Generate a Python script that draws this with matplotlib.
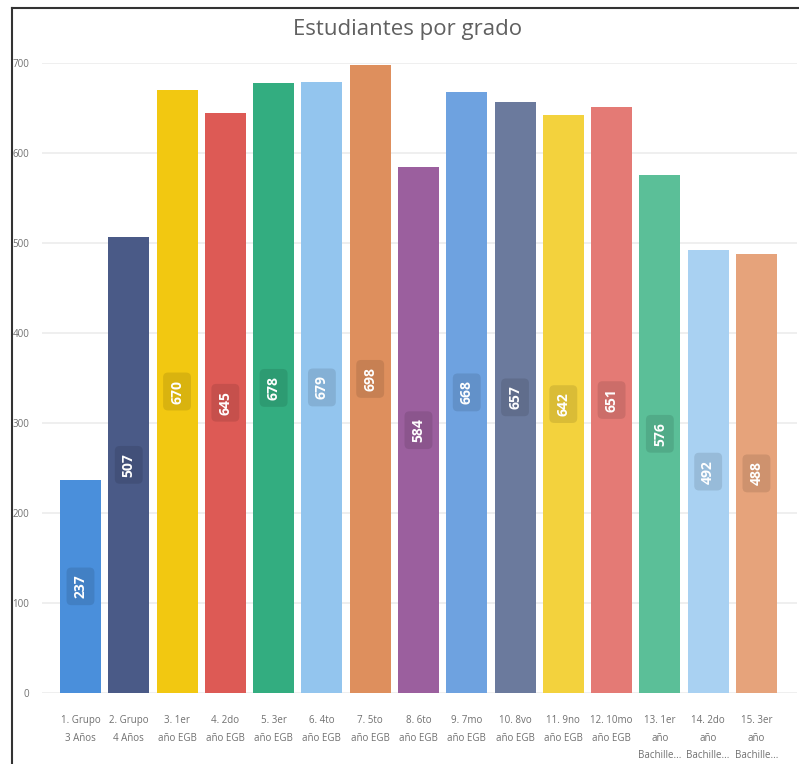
import matplotlib
matplotlib.use("Agg")
import matplotlib.pyplot as plt
from matplotlib.lines import Line2D

categories = ["1. Grupo\n3 Años", "2. Grupo\n4 Años", "3. 1er\naño EGB", "4. 2do\naño EGB",
              "5. 3er\naño EGB", "6. 4to\naño EGB", "7. 5to\naño EGB", "8. 6to\naño EGB",
              "9. 7mo\naño EGB", "10. 8vo\naño EGB", "11. 9no\naño EGB", "12. 10mo\naño EGB",
              "13. 1er\naño\nBachille...", "14. 2do\naño\nBachille...", "15. 3er\naño\nBachille..."]
values = [237, 507, 670, 645, 678, 679, 698, 584, 668, 657, 642, 651, 576, 492, 488]
colors = ["#4a8fdb", "#4a5a87", "#f2c811", "#dd5a55", "#33ad80", "#93c5ee", "#de8f5d",
          "#9b5f9e", "#6ea2e0", "#6b7a9d", "#f3d23d", "#e47a75", "#5bbf98", "#a9d1f2", "#e6a37b"]
yticks = [0, 100, 200, 300, 400, 500, 600, 700]

plt.rcParams['font.family'] = ['Open Sans', 'DejaVu Sans']

fig = plt.figure(figsize=(7.99, 7.64), dpi=100)
W, H = 799, 764
ax = fig.add_axes([42 / W, (H - 693) / H, (797 - 42) / W, (693 - 63) / H])

x = list(range(len(values)))
ax.bar(x, values, width=0.85, color=colors, zorder=2)
ax.set_xlim(-0.797, 14.84)
ax.set_ylim(0, 700)

for xi, v in zip(x, values):
    ax.text(xi, v / 2, str(v), rotation=90, ha='center', va='center', color='white',
            fontsize=10, fontweight='bold', zorder=3, fontstretch='expanded',
            bbox=dict(boxstyle='round,pad=0.5,rounding_size=0.35', fc=(0, 0, 0, 0.1), ec='none'))

ax.set_yticks(yticks)
ax.set_yticklabels([str(t) for t in yticks])
ax.set_xticks(x)
ax.set_xticklabels(categories, linespacing=1.8, va='top')
ax.tick_params(axis='y', length=0, pad=9, labelsize=7, labelcolor='#707070')
ax.tick_params(axis='x', length=0, pad=16, labelsize=7, labelcolor='#707070')
ax.grid(axis='y', color='#ececec', linewidth=1.2, zorder=0)
ax.set_axisbelow(True)
for s in ax.spines.values():
    s.set_visible(False)

fig.text(408 / W, 1 - 30 / H, "Estudiantes por grado", ha='center', va='center',
         fontsize=16, color='#606060')

# frame lines of the screenshot
fig.add_artist(Line2D([12 / W, 12 / W], [0, 1 - 8 / H], transform=fig.transFigure, color='#333333', lw=1.5))
fig.add_artist(Line2D([12 / W, 1], [1 - 8 / H, 1 - 8 / H], transform=fig.transFigure, color='#333333', lw=1.5))

fig.savefig("out.png", dpi=100)
